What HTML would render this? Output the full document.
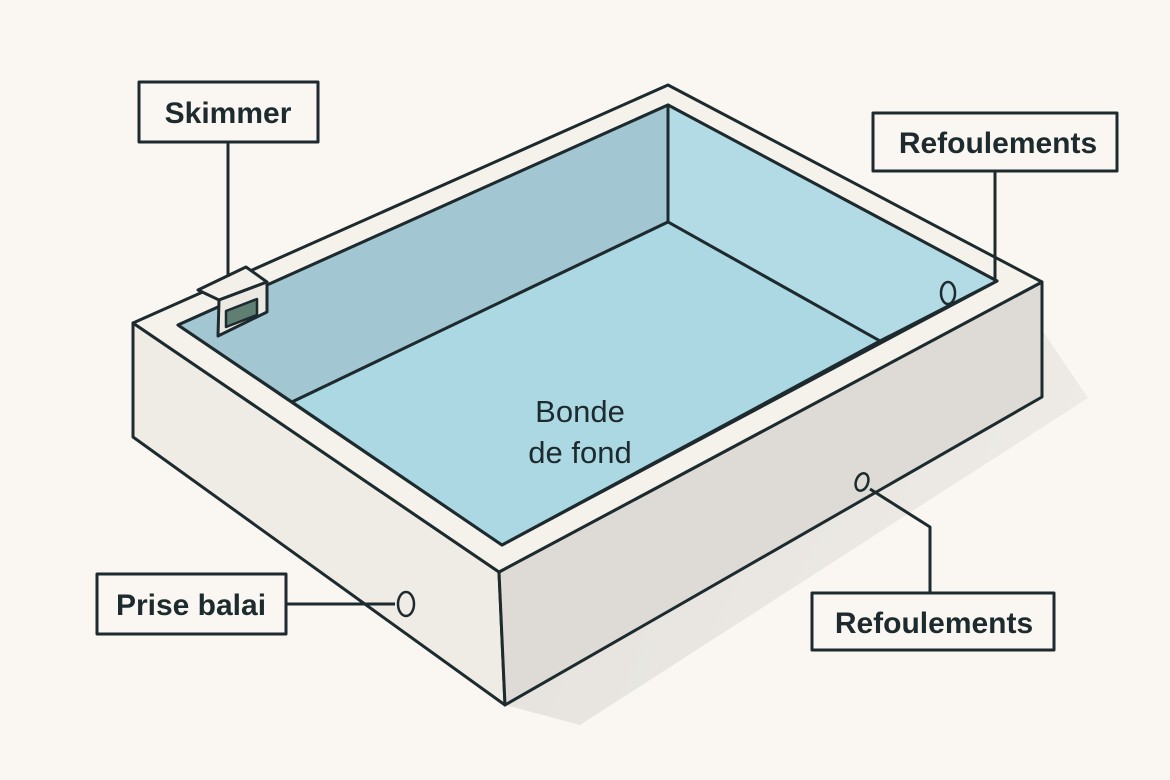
<!DOCTYPE html>
<html><head><meta charset="utf-8"><style>
html,body{margin:0;padding:0;background:#faf7f2}
svg{display:block}
text{font-family:"Liberation Sans",sans-serif;fill:#1d2a2e;font-weight:bold}
text.n{font-weight:normal}
</style></head><body>
<svg width="1170" height="780" viewBox="0 0 1170 780">
<defs>
<linearGradient id="sh" x1="0" y1="0" x2="1" y2="0.3"><stop offset="0" stop-color="#e4e1dc"/><stop offset="1" stop-color="#eeebe6"/></linearGradient>
</defs>
<rect width="1170" height="780" fill="#faf7f2"/>
<polygon points="1042,330 1088,398 580,725 505,705 1042,397" fill="url(#sh)"/>
<g stroke="#1d2a2e" stroke-width="3" stroke-linejoin="round">
<polygon points="133,323 499,572 505,705 133,437" fill="#efece6"/>
<polygon points="499,572 1042,282 1042,397 505,705" fill="#dedbd6"/>
<polygon points="133,323 668,85 1042,282 499,572" fill="#f5f2ec"/>
<polygon points="178,325 668,105 997,281 502,545" fill="#acd8e3"/>
<polygon points="178,325 668,105 668,222 292,402" fill="#a3c6d3"/>
<polygon points="668,105 997,281 880,341 668,222" fill="#b2dbe6"/>
<polygon points="292,402 668,222 880,341 502,545" fill="#acd8e3"/>
<polygon points="198,290 246,267 267,282 219,300" fill="#f3f0ea"/>
<polygon points="219,300 267,282 267,312 218,336" fill="#ece9e3"/>
<polygon points="226,311 257,299 257,315 226,327" fill="#5f7f73" stroke-width="2.5"/>
<line x1="228" y1="142" x2="228" y2="277" fill="none"/>
<line x1="995" y1="171" x2="995" y2="280" fill="none"/>
<polyline points="870,489 930,527 930,593" fill="none"/>
<line x1="286" y1="604" x2="395" y2="604" fill="none"/>
<ellipse cx="948" cy="293" rx="7" ry="11" fill="none" stroke-width="2.5"/>
<ellipse cx="862" cy="482" rx="6" ry="9" fill="none" stroke-width="2.5" transform="rotate(20 862 482)"/>
<ellipse cx="406" cy="604" rx="8" ry="12" fill="none" stroke-width="2.5"/>
<rect x="139" y="82" width="179" height="60" fill="#faf7f2"/>
<rect x="873" y="113" width="244" height="58" fill="#faf7f2"/>
<rect x="812" y="593" width="242" height="57" fill="#faf7f2"/>
<rect x="97" y="574" width="189" height="60" fill="#faf7f2"/>
</g>
<text x="228" y="123" font-size="30" text-anchor="middle">Skimmer</text>
<text x="998" y="153" font-size="30" text-anchor="middle">Refoulements</text>
<text x="934" y="633" font-size="30" text-anchor="middle">Refoulements</text>
<text x="191" y="615" font-size="30" text-anchor="middle">Prise balai</text>
<text class="n" x="580" y="422" font-size="31" text-anchor="middle">Bonde</text>
<text class="n" x="580" y="463" font-size="31" text-anchor="middle">de fond</text>
</svg>
</body></html>
